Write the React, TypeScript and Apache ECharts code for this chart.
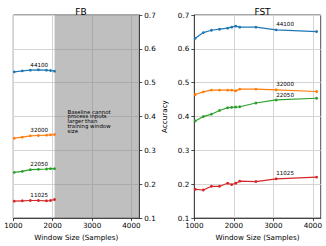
import React, { useEffect, useRef } from "react";
import * as echarts from "echarts";

const fbWindows = [1024, 1228.8, 1433.6, 1638.4, 1843.2, 1945.6, 2048];
const fstWindows = [1024, 1228.8, 1433.6, 1638.4, 1843.2, 1945.6, 2048, 2150.4, 2560, 3072, 4096];
const sampleRates = ["44100", "32000", "22050", "11025"];
const colors = ["#1f77b4", "#ff7f0e", "#2ca02c", "#d62728"];

const fb44100 = [0.532, 0.535, 0.537, 0.538, 0.537, 0.536, 0.534];
const fb32000 = [0.336, 0.339, 0.343, 0.344, 0.345, 0.346, 0.347];
const fb22050 = [0.235, 0.238, 0.243, 0.244, 0.245, 0.246, 0.246];
const fb11025 = [0.150, 0.151, 0.152, 0.152, 0.151, 0.152, 0.155];

const fst44100 = [0.631, 0.648, 0.655, 0.658, 0.661, 0.664, 0.667, 0.664, 0.664, 0.656, 0.651];
const fst32000 = [0.465, 0.473, 0.478, 0.478, 0.478, 0.478, 0.476, 0.481, 0.481, 0.479, 0.474];
const fst22050 = [0.387, 0.400, 0.407, 0.418, 0.426, 0.427, 0.428, 0.429, 0.440, 0.449, 0.454];
const fst11025 = [0.185, 0.183, 0.194, 0.194, 0.203, 0.199, 0.203, 0.209, 0.208, 0.216, 0.221];

const xTicks = [1000, 2000, 3000, 4000];
const xMin = 1000;
const xMax = 4200;
const yMin = 0.1;
const yMax = 0.7;
const baselineLimit = 2048;
const fbLabelIndex = 2;
const fstLabelIndex = 9;
const panelTitles = ["FB", "FST"];
const xName = "Window Size (Samples)";
const yName = "Accuracy";
const note = "Baseline cannot\nprocess inputs\nlarger than\ntraining window\nsize";

const FONT = "DejaVu Sans";
const INK = "#000";

function makeData(xs: number[], ys: number[], labelIdx: number, name: string) {
  return xs.map((x, i) =>
    i === labelIdx
      ? {
          value: [x, ys[i]],
          label: {
            show: true,
            formatter: name,
            position: "top",
            distance: 1,
            align: "left",
            fontSize: 5.6,
            color: INK,
            fontFamily: FONT,
          },
        }
      : [x, ys[i]]
  );
}

export default function App() {
  const ref = useRef<HTMLDivElement>(null);
  useEffect(() => {
    document.body.style.margin = "0";
    const chart = echarts.init(ref.current!, null, { renderer: "svg" });
    const fbSets = [fb44100, fb32000, fb22050, fb11025];
    const fstSets = [fst44100, fst32000, fst22050, fst11025];
    const axisCommonX = (gridIndex: number) => ({
      type: "value",
      gridIndex,
      min: xMin,
      max: xMax,
      interval: 1000,
      name: xName,
      nameLocation: "middle",
      nameGap: 13,
      nameTextStyle: { fontSize: 7.2, color: INK, fontFamily: FONT },
      axisLine: { show: true, lineStyle: { color: "#222", width: 0.8 } },
      axisTick: {
        show: true,
        length: 3,
        lineStyle: { color: "#222", width: 0.8 },
        customValues: xTicks,
      },
      axisLabel: {
        fontSize: 7.2,
        color: INK,
        fontFamily: FONT,
        margin: 4,
        customValues: xTicks,
        formatter: (v: number) => String(v),
      },
      splitLine: { show: true, lineStyle: { color: "#d4d4d4", width: 1 } },
    });
    const axisCommonY = (gridIndex: number, position: string, withName: boolean) => ({
      type: "value",
      gridIndex,
      position,
      min: yMin,
      max: yMax,
      interval: 0.1,
      name: withName ? yName : "",
      nameLocation: "middle",
      nameGap: 26,
      nameRotate: 90,
      nameTextStyle: { fontSize: 7.2, color: INK, fontFamily: FONT },
      axisLine: { show: true, lineStyle: { color: "#222", width: 0.8 } },
      axisTick: { show: true, length: 3, lineStyle: { color: "#222", width: 0.8 } },
      axisLabel: {
        fontSize: 7.2,
        color: INK,
        fontFamily: FONT,
        margin: 5,
        formatter: (v: number) => v.toFixed(1),
      },
      splitLine: { show: true, lineStyle: { color: "#d4d4d4", width: 1 } },
    });

    const series: any[] = [];
    sampleRates.forEach((name, k) => {
      series.push({
        type: "line",
        name: "FB " + name,
        xAxisIndex: 0,
        yAxisIndex: 0,
        data: makeData(fbWindows, fbSets[k], fbLabelIndex, name),
        symbol: "circle",
        symbolSize: 2.8,
        lineStyle: { width: 1.2, color: colors[k] },
        itemStyle: { color: colors[k] },
        z: 3,
        markArea:
          k === 0
            ? {
                silent: true,
                itemStyle: { color: "rgba(128,128,128,0.5)" },
                data: [[{ xAxis: baselineLimit }, { xAxis: xMax }]],
              }
            : undefined,
      });
      series.push({
        type: "line",
        name: "FST " + name,
        xAxisIndex: 1,
        yAxisIndex: 1,
        data: makeData(fstWindows, fstSets[k], fstLabelIndex, name),
        symbol: "circle",
        symbolSize: 2.8,
        lineStyle: { width: 1.2, color: colors[k] },
        itemStyle: { color: colors[k] },
        z: 3,
      });
    });

    chart.setOption({
      animation: false,
      backgroundColor: "#fff",
      title: [
        {
          text: panelTitles[0],
          left: 76,
          top: 2.5,
          textAlign: "center",
          textStyle: { fontSize: 9, fontWeight: "normal", color: INK, fontFamily: FONT },
        },
        {
          text: panelTitles[1],
          left: 257.5,
          top: 2.5,
          textAlign: "center",
          textStyle: { fontSize: 9, fontWeight: "normal", color: INK, fontFamily: FONT },
        },
      ],
      grid: [
        { left: 13.3, top: 15, width: 126, height: 204.5, show: true, borderColor: "#222", borderWidth: 0.8, backgroundColor: "transparent" },
        { left: 194.3, top: 15, width: 126.4, height: 204.5, show: true, borderColor: "#222", borderWidth: 0.8, backgroundColor: "transparent" },
      ],
      xAxis: [axisCommonX(0), axisCommonX(1)],
      yAxis: [axisCommonY(0, "right", false), axisCommonY(1, "left", true)],
      graphic: [
        {
          type: "text",
          left: 67.5,
          top: 109,
          silent: true,
          style: {
            text: note,
            fontSize: 5.4,
            lineHeight: 4.9,
            fill: INK,
            fontFamily: FONT,
          },
          z: 10,
        },
      ],
      series,
    });
    return () => chart.dispose();
  }, []);
  return (
    <div
      ref={ref}
      style={{ position: "fixed", left: 0, top: 0, width: 326, height: 246 }}
    />
  );
}
